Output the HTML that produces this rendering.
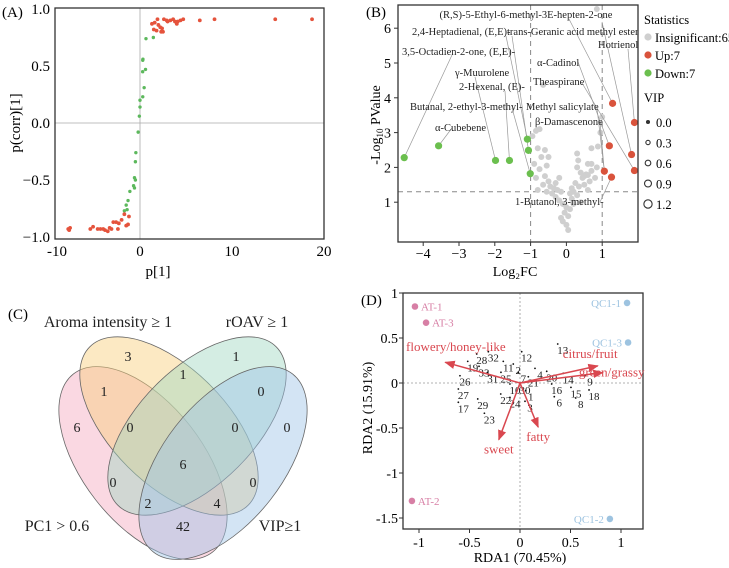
<!DOCTYPE html>
<html><head><meta charset="utf-8">
<style>
html,body{margin:0;padding:0;background:#fff;}
svg{display:block;font-family:"Liberation Serif",serif;}
</style></head>
<body>
<svg id="fig" width="729" height="568" viewBox="0 0 729 568" xmlns="http://www.w3.org/2000/svg">
  <g id="pA"></g>
  <g id="pB"></g>
  <g id="pC">
    <text x="8" y="319" font-size="15">(C)</text>
    <g fill-opacity="0.45" stroke="#666" stroke-width="0.8">
      <ellipse cx="143" cy="463" rx="113" ry="60" transform="rotate(52 143 463)" fill="#f3a9bf"/>
      <ellipse cx="169" cy="426" rx="112" ry="58" transform="rotate(45 169 426)" fill="#f9cf7a"/>
      <ellipse cx="197" cy="426" rx="112" ry="58" transform="rotate(-45 197 426)" fill="#9fd6c2"/>
      <ellipse cx="223" cy="463" rx="113" ry="60" transform="rotate(-52 223 463)" fill="#9ec3e6"/>
    </g>
    <g font-size="16" text-anchor="middle" fill="#222">
      <text x="108" y="327">Aroma intensity ≥ 1</text>
      <text x="257" y="327">rOAV ≥ 1</text>
      <text x="57" y="531">PC1 &gt; 0.6</text>
      <text x="280" y="531">VIP≥1</text>
    </g>
    <g id="vennNums" font-size="14" text-anchor="middle" fill="#222"></g>
  </g>
  <g id="pD"></g>
</svg>
<script>
// ---------- Panel A data ----------
const aRedX=[1.3,1.5,1.8,1.9,2.0,2.2,2.3,2.5,2.4,2.6,2.9,3.3,3.6,3.8,4.0,4.1,4.4,4.7,6.5,8.1,14.7,18.7,1.6,3.0,
 -7.8,-7.6,-7.7,-5.4,-5.1,-4.6,-4.3,-4.0,-3.8,-3.5,-3.1,-2.9,-2.6,-2.3,-2.0,-1.7,-2.4,-1.5,-1.3,-1.2,-3.3];
const aRedY=[0.87,0.82,0.81,0.91,0.86,0.84,0.80,0.80,0.83,0.91,0.90,0.90,0.91,0.89,0.87,0.89,0.90,0.91,0.90,0.91,0.91,0.91,0.88,0.89,
 -0.93,-0.92,-0.94,-0.93,-0.91,-0.93,-0.93,-0.93,-0.94,-0.95,-0.93,-0.87,-0.87,-0.88,-0.85,-0.80,-0.93,-0.90,-0.89,-0.82,-0.92];
const aGreenX=[0.65,1.45,0.3,0.29,0.6,0.45,0.3,0.0,0.0,-0.07,-0.2,-0.45,-0.5,-0.6,-0.5,-0.7,-0.6,-1.1,-1.3,-1.5,-1.7,-1.4,0.32];
const aGreenY=[0.74,0.75,0.55,0.45,0.47,0.31,0.23,0.2,0.14,0.06,-0.08,-0.26,-0.34,-0.48,-0.5,-0.55,-0.57,-0.6,-0.68,-0.72,-0.77,-0.76,0.56];
const aXTicks=[-10,0,10,20];
const aYTicks=[1.0,0.5,0.0,-0.5,-1.0];
const aYTickLabels=["1.0","0.5","0.0","−0.5","−1.0"];

// ---------- Panel B data ----------
const bGrayX=[-0.95,-0.85,-0.75,-0.65,-0.8,-0.6,-0.7,-0.5,-0.9,-0.55,-0.75,-0.6,-0.85,-0.5,-0.65,-0.45,-0.8,-0.35,-0.25,-0.55,-0.4,-0.15,-0.3,-0.2,-0.1,0.0,-0.05,0.05,-0.15,-0.1,0.0,0.05,0.1,0.2,0.15,0.3,0.35,0.25,0.45,0.5,0.55,0.6,0.7,0.65,0.4,0.3,0.33,0.3,0.6,0.7,0.8,0.85,0.7,0.88,0.95,0.85,1.0,-0.3,-0.2,0.15,0.5,0.6,0.4,0.2,0.1];
const bGrayY=[2.9,3.05,3.1,4.37,2.55,2.5,2.3,2.3,2.1,2.05,1.95,1.75,1.7,1.6,1.5,1.45,1.35,1.4,1.35,1.3,1.25,1.3,1.15,1.05,0.95,0.85,0.7,0.6,0.55,0.45,0.35,0.2,0.8,0.95,1.1,1.2,1.45,1.55,1.7,1.75,1.8,1.78,1.9,1.6,1.85,2.0,2.2,2.4,2.1,2.1,1.7,2.0,2.55,2.6,3.0,6.55,3.45,1.55,1.7,1.4,1.5,1.35,1.0,1.3,1.25];
const bDownX=[-4.53,-3.57,-1.98,-1.59,-1.09,-1.06,-1.01];
const bDownY=[2.28,2.62,2.2,2.2,2.81,2.49,1.82];
const bUpX=[1.29,1.9,1.2,1.82,1.06,1.26,1.9];
const bUpY=[3.84,3.29,2.62,2.37,1.89,1.72,1.91];
const bXTicks=[-4,-3,-2,-1,0,1];
const bYTicks=[1,2,3,4,5,6];
const bVipLevels=[0.0,0.3,0.6,0.9,1.2];
const bLabels=["(R,S)-5-Ethyl-6-methyl-3E-hepten-2-one","2,4-Heptadienal, (E,E)-","trans-Geranic acid methyl ester","Hotrienol","3,5-Octadien-2-one, (E,E)-","α-Cadinol","γ-Muurolene","2-Hexenal, (E)-","Theaspirane","Butanal, 2-ethyl-3-methyl-","Methyl salicylate","β-Damascenone","α-Cubebene","1-Butanol, 3-methyl-"];

// ---------- Panel C data ----------
const vennCounts=[3,1,1,1,0,6,0,0,0,6,0,0,2,4,42];

// ---------- Panel D data ----------
const dSampleNames=["AT-1","AT-3","AT-2","QC1-1","QC1-3","QC1-2"];
const dSampleX=[-1.04,-0.93,-1.07,1.06,1.07,0.89];
const dSampleY=[0.85,0.67,-1.31,0.89,0.45,-1.51];
const dArrowNames=["flowery/honey-like","citrus/fruit","green/grassy","sweet","fatty"];
const dArrowX=[-0.74,0.77,0.82,-0.21,0.18];
const dArrowY=[0.23,0.19,0.115,-0.63,-0.49];
const dSpeciesIds=["19","28","32","33","31","26","11","25","2","12","7","21","4","20","14","9","13","16","15","18","6","8","10","30","1","3","22","24","27","17","29","23"];
const dSpeciesX=[-0.468,-0.379,-0.264,-0.356,-0.270,-0.545,-0.116,-0.139,-0.017,0.066,0.033,0.132,0.198,0.314,0.478,0.693,0.423,0.363,0.554,0.733,0.389,0.601,-0.050,0.050,0.106,0.099,-0.141,-0.050,-0.561,-0.561,-0.369,-0.303];
const dSpeciesY=[0.174,0.256,0.281,0.119,0.052,0.014,0.174,0.052,0.144,0.281,0.052,0.003,0.096,0.063,0.041,0.014,0.367,-0.078,-0.115,-0.144,-0.219,-0.233,-0.078,-0.078,-0.152,-0.270,-0.189,-0.226,-0.133,-0.281,-0.244,-0.403];
const dXTicks=[-1,-0.5,0,0.5,1];
const dYTicks=[1,0.5,0,-0.5,-1,-1.5];

const NS="http://www.w3.org/2000/svg";
function mk(parent,tag,attrs,txt){const e=document.createElementNS(NS,tag);for(const k in attrs)e.setAttribute(k,attrs[k]);if(txt!==undefined)e.textContent=txt;parent.appendChild(e);return e;}

// ===== Panel A =====
(function(){
 const g=document.getElementById('pA');
 const L=55,R=324,T=8,B=239;
 const ax=v=>140+v*9.2, ay=v=>123-v*114;
 let e=mk(g,'text',{x:2,y:17,'font-size':15},'(A)');
 
 e=mk(g,'line',{x1:ax(0),x2:ax(0),y1:T,y2:B,stroke:'#aaa','stroke-width':0.8});
 
 e=mk(g,'line',{x1:L,x2:R,y1:ay(0),y2:ay(0),stroke:'#aaa','stroke-width':0.8});
 
 e=mk(g,'rect',{x:L,y:T,width:R-L,height:B-T,fill:'none',stroke:'#333','stroke-width':1.3});
 
 aXTicks.forEach(v=>{let x=Math.max(L,ax(v));if(v===-10)x=57;
  const t=mk(g,'text',{x:x,y:256,'font-size':15,'text-anchor':'middle'},String(v));
  });
 aYTicks.forEach((v,i)=>{const t=mk(g,'text',{x:50,y:ay(v)+5,'font-size':15,'text-anchor':'end'},aYTickLabels[i]);
  });
 e=mk(g,'text',{x:158,y:276,'font-size':15,'text-anchor':'middle'},'p[1]');
 
 e=mk(g,'text',{x:0,y:0,'font-size':15,'text-anchor':'middle',transform:'translate(20,123) rotate(-90)'},'p(corr)[1]');
 
 aGreenX.forEach((v,i)=>{const c=mk(g,'circle',{cx:ax(v),cy:ay(aGreenY[i]),r:1.7,fill:'#5cb85c'});
  });
 aRedX.forEach((v,i)=>{const c=mk(g,'circle',{cx:ax(v),cy:ay(aRedY[i]),r:1.9,fill:'#e5533c'});
  });
})();

// ===== Panel B =====
(function(){
 const g=document.getElementById('pB');
 const L=398,R=638,T=5,B=242;
 const bx=v=>566.4+v*35.8, by=v=>237-v*34.8;
 let e=mk(g,'text',{x:366,y:17,'font-size':15},'(B)');
 
 [-1,1].forEach(v=>{const l=mk(g,'line',{x1:bx(v),x2:bx(v),y1:T,y2:B,stroke:'#888','stroke-width':1,'stroke-dasharray':'5,4'});
  });
 e=mk(g,'line',{x1:L,x2:R,y1:by(1.3),y2:by(1.3),stroke:'#888','stroke-width':1,'stroke-dasharray':'5,4'});
 
 bGrayX.forEach((v,i)=>{const c=mk(g,'circle',{cx:bx(v),cy:by(bGrayY[i]),r:3,fill:'#cfcfcf'});
  });
 const leaders=[[569,19,'u',0],[506,36,'d',4],[602,22,'u',3],[628,49,'u',1],[452,55,'d',0],[578,62,'u',2],[475,77,'d',2],[505,91,'d',3],[582,83,'u',6],[512,108,'d',6],[597,108,'u',4],[600,122,'u',4],[452,128,'d',1],[600,202,'u',5],[512,36,'d',5]];
 leaders.forEach(d=>{const tx=d[2]==='u'?bx(bUpX[d[3]]):bx(bDownX[d[3]]);const ty=d[2]==='u'?by(bUpY[d[3]]):by(bDownY[d[3]]);
  const l=mk(g,'line',{x1:d[0],y1:d[1],x2:tx,y2:ty,stroke:'#999','stroke-width':0.7});
  });
 bDownX.forEach((v,i)=>{const c=mk(g,'circle',{cx:bx(v),cy:by(bDownY[i]),r:3.6,fill:'#6bbf4e'});
  });
 bUpX.forEach((v,i)=>{const c=mk(g,'circle',{cx:bx(v),cy:by(bUpY[i]),r:3.6,fill:'#d9533c'});
  });
 const lp=[[526,18,'middle'],[412,35,'start'],[507,35,'start'],[598,48,'start'],[402,55,'start'],[537,66,'start'],[455,76,'start'],[459,90,'start'],[533,85,'start'],[410,110,'start'],[526,110,'start'],[535,125,'start'],[435,131,'start'],[515,205,'start']];
 bLabels.forEach((s,i)=>{const t=mk(g,'text',{x:lp[i][0],y:lp[i][1],'font-size':10.5,'text-anchor':lp[i][2],fill:'#222'},s);
  });
 e=mk(g,'rect',{x:L,y:T,width:R-L,height:B-T,fill:'none',stroke:'#333','stroke-width':1.3});
 
 bXTicks.forEach(v=>{const l=mk(g,'line',{x1:bx(v),x2:bx(v),y1:B,y2:B+4,stroke:'#333'});
  
  const t=mk(g,'text',{x:bx(v),y:B+16,'font-size':14,'text-anchor':'middle'},v<0?'−'+Math.abs(v):String(v));
  });
 bYTicks.forEach(v=>{const l=mk(g,'line',{x1:L-4,x2:L,y1:by(v),y2:by(v),stroke:'#333'});
  
  const t=mk(g,'text',{x:L-7,y:by(v)+5,'font-size':14,'text-anchor':'end'},String(v));
  });
 e=mk(g,'text',{x:515,y:276,'font-size':14,'text-anchor':'middle'},'Log₂FC');
 
 e=mk(g,'text',{x:0,y:0,'font-size':14,'text-anchor':'middle',transform:'translate(380,125) rotate(-90)'});
 
 e.innerHTML='-Log<tspan font-size="9" dy="3">10</tspan><tspan dy="-3"> PValue</tspan>';
 const lg=mk(g,'g',{'font-size':12.5});
 
 mk(lg,'text',{x:644,y:24},'Statistics');
 [['#cfcfcf','Insignificant:65',37],['#d9533c','Up:7',55],['#6bbf4e','Down:7',73]].forEach(d=>{
  const c=mk(lg,'circle',{cx:648,cy:d[2],r:3.6,fill:d[0]});
  const t=mk(lg,'text',{x:655,y:d[2]+5},d[1]);});
 mk(lg,'text',{x:644,y:102},'VIP');
 bVipLevels.forEach((v,i)=>{const y=122+i*20.5;
  const c=mk(lg,'circle',{cx:648,cy:y,r:1.5+v*2.2,fill:i===0?'#333':'none',stroke:'#333','stroke-width':1.1});
  
  const t=mk(lg,'text',{x:656,y:y+5},v.toFixed(1));});
})();

// ===== Panel C numbers =====
(function(){
 const g=document.getElementById('vennNums');
 const pos=[[128,361],[183,379],[236,361],[104,396],[261,396],[77,432],[130,432],[235,432],[287,432],[183,469],[113,487],[253,487],[148,508],[217,508],[183,531]];
 vennCounts.forEach((n,i)=>{const t=mk(g,'text',{x:pos[i][0],y:pos[i][1]},String(n));
  });
})();

// ===== Panel D =====
(function(){
 const g=document.getElementById('pD');
 const L=403,R=643,T=293,B=529;
 const dx=v=>520+v*101, dy=v=>383-v*90;
 let e=mk(g,'text',{x:361,y:305,'font-size':15},'(D)');
 
 e=mk(g,'line',{x1:dx(0),x2:dx(0),y1:T,y2:B,stroke:'#999','stroke-width':0.8,'stroke-dasharray':'2,2'});
 
 e=mk(g,'line',{x1:L,x2:R,y1:dy(0),y2:dy(0),stroke:'#999','stroke-width':0.8,'stroke-dasharray':'2,2'});
 
 e=mk(g,'rect',{x:L,y:T,width:R-L,height:B-T,fill:'none',stroke:'#333','stroke-width':1.3});
 
 dXTicks.forEach(v=>{const l=mk(g,'line',{x1:dx(v),x2:dx(v),y1:B,y2:B+4,stroke:'#333'});
  
  const t=mk(g,'text',{x:dx(v),y:B+18,'font-size':14,'text-anchor':'middle'},String(v));
  });
 dYTicks.forEach(v=>{const l=mk(g,'line',{x1:L-4,x2:L,y1:dy(v),y2:dy(v),stroke:'#333'});
  
  const t=mk(g,'text',{x:L-5,y:dy(v)+5,'font-size':14,'text-anchor':'end'},String(v));
  });
 e=mk(g,'text',{x:520,y:562,'font-size':14,'text-anchor':'middle'},'RDA1 (70.45%)');
 
 e=mk(g,'text',{x:0,y:0,'font-size':14,'text-anchor':'middle',transform:'translate(372,408) rotate(-90)'},'RDA2 (15.91%)');
 
 const defs=mk(g,'defs',{});
 const m=mk(defs,'marker',{id:'ah',viewBox:'0 0 10 10',refX:9,refY:5,markerWidth:7,markerHeight:7,orient:'auto'});
 mk(m,'path',{d:'M0,1 L10,5 L0,9 z',fill:'#d9474f'});
 dSpeciesIds.forEach((s,i)=>{const x=dx(dSpeciesX[i]),y=dy(dSpeciesY[i]);
  const c=mk(g,'circle',{cx:x-5,cy:y-6,r:0.9,fill:'#111'});
  const t=mk(g,'text',{x:x,y:y+4,'font-size':11,'text-anchor':'middle',fill:'#222'},s);});
 const alab=[[-2,-8,'start'],[-35,-8,'start'],[-24,4,'start'],[0,14,'middle'],[0,14,'middle']];
 dArrowNames.forEach((s,i)=>{const x=dx(dArrowX[i]),y=dy(dArrowY[i]);
  const l=mk(g,'line',{x1:dx(0),y1:dy(0),x2:x,y2:y,stroke:'#d9474f','stroke-width':1.5,'marker-end':'url(#ah)'});
  
  let tx=x+alab[i][0],ty=y+alab[i][1];if(i===0){tx=406;ty=351;}
  const t=mk(g,'text',{x:tx,y:ty,'font-size':13,'text-anchor':alab[i][2],fill:'#d9474f'},s);
  });
 dSampleNames.forEach((s,i)=>{const x=dx(dSampleX[i]),y=dy(dSampleY[i]);const col=s.startsWith('AT')?'#d77fa5':'#9dc3e0';
  const c=mk(g,'circle',{cx:x,cy:y,r:3.3,fill:col});
  const left=s.startsWith('QC');
  const t=mk(g,'text',{x:left?x-6:x+6,y:y+4,'font-size':11,'text-anchor':left?'end':'start',fill:col},s);
  });
})();
</script>
</body></html>
